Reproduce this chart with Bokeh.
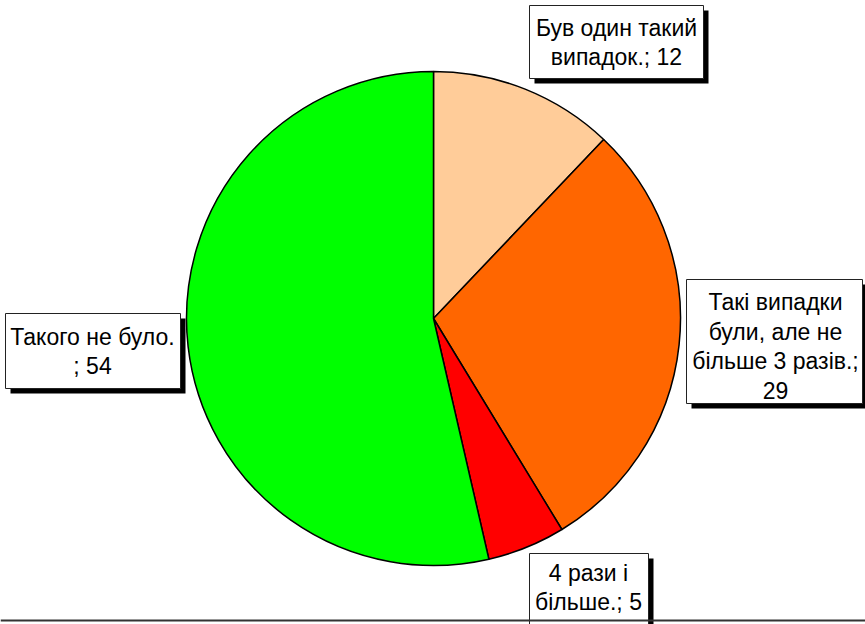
import numpy as np
from bokeh.plotting import figure
from bokeh.models import Range1d, ColumnDataSource
from bokeh.embed import file_html
from bokeh.resources import INLINE
from bokeh.core.properties import value

# ---- data ----
categories = ["Був один такий випадок.",
              "Такі випадки були, але не більше 3 разів.",
              "4 рази і більше.",
              "Такого не було."]
# slice sizes (labels show them rounded)
values = [12.1, 29.2, 5.1, 53.6]
colors = ["#FFCC99", "#FF6600", "#FF0000", "#00FF00"]
label_templates = ["Був один такий\nвипадок.; {:.0f}",
                   "Такі випадки\nбули, але не\nбільше 3 разів.;\n{:.0f}",
                   "4 рази і\nбільше.; {:.0f}",
                   "Такого не було.\n; {:.0f}"]

# ---- layout (image pixel coordinates, y down) ----
IMG_H = 624
def Y(y):
    return IMG_H - y

W, H = 865, 624
p = figure(width=W, height=H, output_backend="svg", toolbar_location=None,
           x_range=Range1d(0, W), y_range=Range1d(IMG_H - H, IMG_H),
           min_border=0, outline_line_color=None)
p.axis.visible = False
p.grid.visible = False
p.background_fill_color = "white"
p.border_fill_color = "white"

# pie
cx, cy, r = 433, Y(318), 247
vals = np.array(values, dtype=float)
frac = vals / vals.sum()
cum = np.concatenate([[0], np.cumsum(frac)])
starts = np.pi / 2 - 2 * np.pi * cum[:-1]
ends = np.pi / 2 - 2 * np.pi * cum[1:]
src = ColumnDataSource(dict(start=starts, end=ends, color=colors,
                            cat=categories, val=values))
p.wedge(x=cx, y=cy, radius=r, start_angle="start", end_angle="end",
        direction="clock", fill_color="color", line_color="black",
        line_width=1.5, source=src)

# label boxes (left, top, right, bottom) and text centres, image coords
boxes = [(529, 5, 703, 78), (686, 279, 862, 403), (529, 553, 648, 640), (5, 313, 180, 388)]
text_pos = [(616, 42), (775, 346), (588, 587), (92, 351)]
sh = 5
p.quad(left=[b[0] + sh for b in boxes], right=[b[2] + sh for b in boxes],
       top=[Y(b[1] + sh) for b in boxes], bottom=[Y(b[3] + sh) for b in boxes],
       fill_color="black", line_color=None)
p.quad(left=[b[0] for b in boxes], right=[b[2] for b in boxes],
       top=[Y(b[1]) for b in boxes], bottom=[Y(b[3]) for b in boxes],
       fill_color="white", line_color="#222222", line_width=1)

labels = [t.format(v) for t, v in zip(label_templates, values)]
p.text(x=[t[0] for t in text_pos], y=[Y(t[1]) for t in text_pos], text=labels,
       text_align="center", text_baseline="middle", text_font=value("Liberation Sans"),
       text_font_size="23px", text_line_height=1.15, text_color="black")

# bottom border line
p.segment(x0=[0], x1=[W], y0=[Y(620)], y1=[Y(620)], line_color="#333333", line_width=2)

open("out.html", "w").write(file_html(p, INLINE))
